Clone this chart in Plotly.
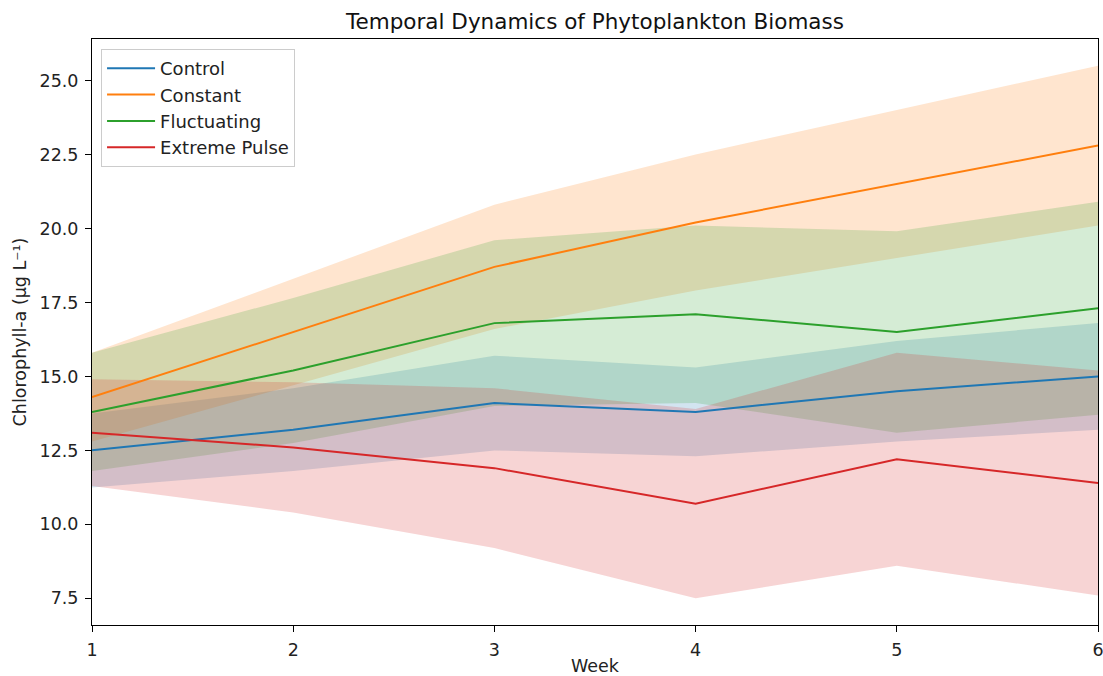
import plotly.graph_objects as go

weeks = [1, 2, 3, 4, 5, 6]

series_names = ["Control", "Constant", "Fluctuating", "Extreme Pulse"]
control = [12.5, 13.2, 14.1, 13.8, 14.5, 15.0]
control_sd = [1.25, 1.4, 1.6, 1.5, 1.7, 1.8]
constant = [14.3, 16.5, 18.7, 20.2, 21.5, 22.8]
constant_sd = [1.5, 1.8, 2.1, 2.3, 2.5, 2.7]
fluctuating = [13.8, 15.2, 16.8, 17.1, 16.5, 17.3]
fluctuating_sd = [2.0, 2.45, 2.8, 3.0, 3.4, 3.6]
extreme = [13.1, 12.6, 11.9, 10.7, 12.2, 11.4]
extreme_sd = [1.8, 2.2, 2.7, 3.2, 3.6, 3.8]

y_ticks = [7.5, 10.0, 12.5, 15.0, 17.5, 20.0, 22.5, 25.0]

colors = ["#1f77b4", "#ff7f0e", "#2ca02c", "#d62728"]
fills = ["rgba(31,119,180,0.2)", "rgba(255,127,14,0.2)",
         "rgba(44,160,44,0.2)", "rgba(214,39,40,0.2)"]

means = [control, constant, fluctuating, extreme]
sds = [control_sd, constant_sd, fluctuating_sd, extreme_sd]

fig = go.Figure()

# shaded bands first (below lines)
for m, s, fc in zip(means, sds, fills):
    upper = [a + b for a, b in zip(m, s)]
    lower = [a - b for a, b in zip(m, s)]
    fig.add_trace(go.Scatter(
        x=weeks + weeks[::-1], y=upper + lower[::-1],
        fill="toself", fillcolor=fc, line=dict(width=0), mode="lines",
        showlegend=False, hoverinfo="skip"))

for name, m, c in zip(series_names, means, colors):
    fig.add_trace(go.Scatter(
        x=weeks, y=m, mode="lines", name=name, legendgroup=name,
        line=dict(color=c, width=2)))

all_low = [a - b for m, s in zip(means, sds) for a, b in zip(m, s)]
all_high = [a + b for m, s in zip(means, sds) for a, b in zip(m, s)]
lo, hi = min(all_low), max(all_high)
pad = 0.05 * (hi - lo)

font = "DejaVu Sans, Arial, sans-serif"
axis_common = dict(showline=True, linecolor="black", linewidth=1, mirror=True,
                   ticks="outside", ticklen=6, tickcolor="black", tickwidth=1,
                   showgrid=False, zeroline=False, automargin=False,
                   ticklabelstandoff=3, ticklabeloverflow="allow",
                   tickfont=dict(family=font, size=17.5, color="#222"))

fig.update_layout(
    width=1103, height=676,
    margin=dict(l=92, r=5, t=39, b=51),
    paper_bgcolor="white", plot_bgcolor="white",
    font=dict(family=font, size=17.5, color="#222"),
    title=dict(text="Temporal Dynamics of Phytoplankton Biomass",
               x=(92 + 1098) / 2 / 1103, xanchor="center",
               y=1 - 21 / 676, yanchor="middle",
               font=dict(family=font, size=21.5, color="#111")),
    xaxis=dict(range=[1, 6], tickvals=weeks, ticktext=[str(w) for w in weeks],
               title=dict(text="Week", font=dict(family=font, size=17.5, color="#222"),
                          standoff=12),
               **axis_common),
    yaxis=dict(range=[lo - pad, hi + pad], tickvals=y_ticks,
               ticktext=[f"{v:.1f}" for v in y_ticks],
               title=dict(text="Chlorophyll-a (µg L⁻¹)",
                          font=dict(family=font, size=17.5, color="#222"),
                          standoff=8),
               **axis_common),
    legend=dict(x=0.009, y=0.983, xanchor="left", yanchor="top",
                bgcolor="rgba(255,255,255,0.8)", bordercolor="#cccccc",
                borderwidth=1, tracegroupgap=0, itemwidth=48,
                font=dict(family=font, size=18, color="#222")),
    showlegend=True,
)

fig.write_html("out.html")
